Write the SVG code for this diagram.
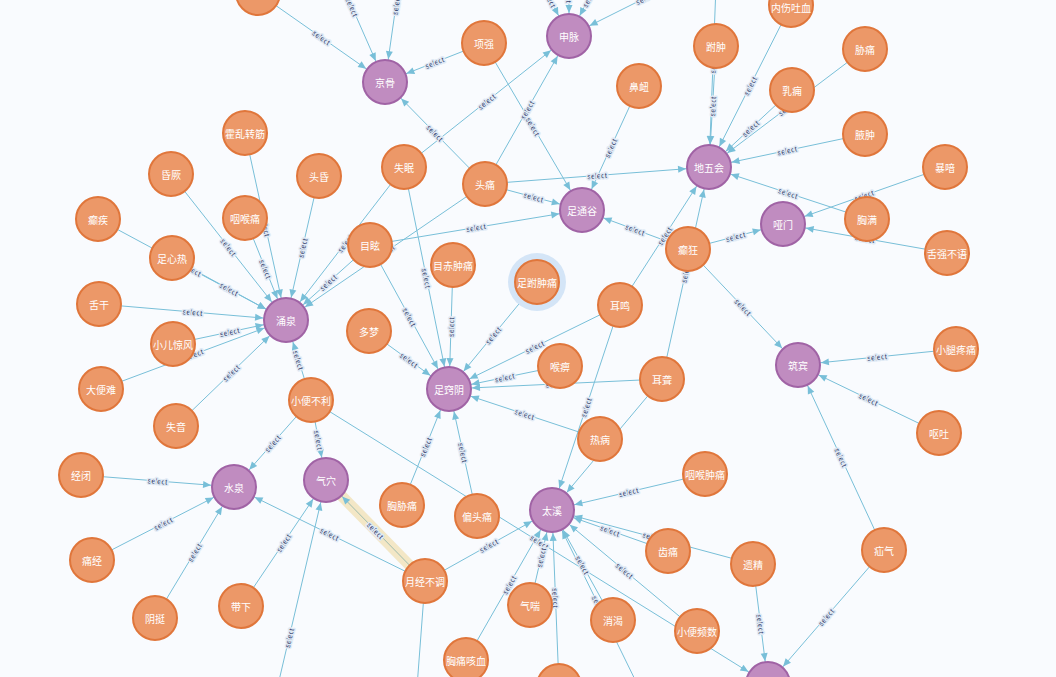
<svg xmlns="http://www.w3.org/2000/svg" xmlns:xlink="http://www.w3.org/1999/xlink" width="1056" height="677" viewBox="0 0 1056 677">
<style>
.e{stroke:#78bfd8;stroke-width:1;fill:none;marker-end:url(#arr)}
.lbl{font-family:"Liberation Sans",Arial,sans-serif;font-size:7.5px;fill:#33406b;stroke:#e0eaf5;stroke-width:3;paint-order:stroke;stroke-linejoin:round;text-anchor:middle;dominant-baseline:central;text-rendering:geometricPrecision}
.o circle{fill:#ec9868;stroke:#e0763b;stroke-width:2}
.p circle{fill:#c08cc0;stroke:#a063a5;stroke-width:2}
.n text{font-family:"Noto Sans CJK SC","Noto Sans",sans-serif;font-size:10px;fill:#fff;text-anchor:middle;dominant-baseline:central}
</style>
<defs>
<marker id="arr" markerUnits="userSpaceOnUse" markerWidth="10" markerHeight="8" refX="31" refY="0" orient="auto" overflow="visible"><path d="M0,-3.5 L8,0 L0,3.5 z" fill="#78bfd8"/></marker>
<path id="L1" d="M258,-7 L385,82"/><path id="L2" d="M385,82 L484,43"/><path id="L3" d="M385,82 L485,184"/><path id="L4" d="M319,-68 L385,82"/><path id="L5" d="M385,82 L407,-72"/>
<path id="L6" d="M404,167 L569,36"/><path id="L7" d="M485,184 L569,36"/><path id="L8" d="M530,-40 L569,36"/><path id="L9" d="M569,-50 L569,36"/><path id="L10" d="M569,36 L609,-40"/><path id="L11" d="M569,36 L721,-40"/>
<path id="L12" d="M484,43 L582,210"/><path id="L13" d="M582,210 L639,86"/><path id="L14" d="M485,184 L582,210"/><path id="L15" d="M370,245 L582,210"/><path id="L16" d="M582,210 L688,249"/>
<path id="L17" d="M709,167 L716,46"/><path id="L18" d="M709,167 L717,-40"/><path id="L19" d="M709,167 L791,5"/><path id="L20" d="M709,167 L865,49"/><path id="L21" d="M709,167 L792,90"/><path id="L22" d="M709,167 L865,134"/><path id="L23" d="M709,167 L867,219"/><path id="L24" d="M485,184 L709,167"/><path id="L25" d="M620,305 L709,167"/><path id="L26" d="M662,379 L709,167"/>
<path id="L27" d="M783,224 L945,167"/><path id="L28" d="M783,224 L947,253"/><path id="L29" d="M688,249 L783,224"/>
<path id="L30" d="M688,249 L798,365"/><path id="L31" d="M798,365 L956,349"/><path id="L32" d="M798,365 L939,433"/><path id="L33" d="M798,365 L884,550"/>
<path id="L34" d="M753,564 L768,684"/><path id="L35" d="M768,684 L884,550"/><path id="L36" d="M311,400 L768,684"/>
<path id="L37" d="M245,133 L286,320"/><path id="L38" d="M245,218 L286,320"/><path id="L39" d="M171,174 L286,320"/><path id="L40" d="M286,320 L319,176"/><path id="L41" d="M98,219 L286,320"/><path id="L42" d="M172,258 L286,320"/><path id="L43" d="M99,304 L286,320"/><path id="L44" d="M173,344 L286,320"/><path id="L45" d="M101,389 L286,320"/><path id="L46" d="M176,426 L286,320"/><path id="L47" d="M286,320 L311,400"/><path id="L48" d="M286,320 L404,167"/><path id="L49" d="M286,320 L370,245"/><path id="L50" d="M286,320 L485,184"/>
<path id="L51" d="M404,167 L449,389"/><path id="L52" d="M370,245 L449,389"/><path id="L53" d="M449,389 L453,265"/><path id="L54" d="M369,331 L449,389"/><path id="L55" d="M449,389 L537,282"/><path id="L56" d="M449,389 L620,305"/><path id="L57" d="M449,389 L560,366"/><path id="L58" d="M449,389 L662,379"/><path id="L59" d="M449,389 L600,439"/><path id="L60" d="M402,505 L449,389"/><path id="L61" d="M449,389 L477,516"/>
<path id="L62" d="M552,510 L620,305"/><path id="L63" d="M552,510 L662,379"/><path id="L64" d="M552,510 L705,474"/><path id="L65" d="M552,510 L668,551"/><path id="L66" d="M552,510 L753,564"/><path id="L67" d="M552,510 L697,631"/><path id="L68" d="M552,510 L613,620"/><path id="L69" d="M530,605 L552,510"/><path id="L70" d="M466,660 L552,510"/><path id="L71" d="M552,510 L559,686"/><path id="L72" d="M552,510 L645,700"/><path id="L73" d="M425,581 L552,510"/>
<path id="L74" d="M81,475 L234,487"/><path id="L75" d="M92,560 L234,487"/><path id="L76" d="M155,618 L234,487"/><path id="L77" d="M234,487 L311,400"/><path id="L78" d="M234,487 L425,581"/>
<path id="L79" d="M311,400 L326,480"/><path id="L80" d="M241,606 L326,480"/><path id="L81" d="M326,480 L425,581"/><path id="L82" d="M252,796 L326,480"/>
</defs>
<rect width="1056" height="677" fill="#f9fbfe"/>
<g id="connectors">
<line x1="420" y1="576" x2="331" y2="485" stroke="#f3e7c6" stroke-width="11"/>
<line class="e" x1="258" y1="-7" x2="385" y2="82"/><line class="e" x1="484" y1="43" x2="385" y2="82"/><line class="e" x1="485" y1="184" x2="385" y2="82"/><line class="e" x1="319" y1="-68" x2="385" y2="82"/><line class="e" x1="407" y1="-72" x2="385" y2="82"/>
<line class="e" x1="404" y1="167" x2="569" y2="36"/><line class="e" x1="485" y1="184" x2="569" y2="36"/><line class="e" x1="530" y1="-40" x2="569" y2="36"/><line class="e" x1="569" y1="-50" x2="569" y2="36"/><line class="e" x1="609" y1="-40" x2="569" y2="36"/><line class="e" x1="721" y1="-40" x2="569" y2="36"/>
<line class="e" x1="484" y1="43" x2="582" y2="210"/><line class="e" x1="639" y1="86" x2="582" y2="210"/><line class="e" x1="485" y1="184" x2="582" y2="210"/><line class="e" x1="370" y1="245" x2="582" y2="210"/><line class="e" x1="688" y1="249" x2="582" y2="210"/>
<line class="e" x1="716" y1="46" x2="709" y2="167"/><line class="e" x1="717" y1="-40" x2="709" y2="167"/><line class="e" x1="791" y1="5" x2="709" y2="167"/><line class="e" x1="865" y1="49" x2="709" y2="167"/><line class="e" x1="792" y1="90" x2="709" y2="167"/><line class="e" x1="865" y1="134" x2="709" y2="167"/><line class="e" x1="867" y1="219" x2="709" y2="167"/><line class="e" x1="485" y1="184" x2="709" y2="167"/><line class="e" x1="620" y1="305" x2="709" y2="167"/><line class="e" x1="662" y1="379" x2="709" y2="167"/>
<line class="e" x1="945" y1="167" x2="783" y2="224"/><line class="e" x1="947" y1="253" x2="783" y2="224"/><line class="e" x1="688" y1="249" x2="783" y2="224"/>
<line class="e" x1="688" y1="249" x2="798" y2="365"/><line class="e" x1="956" y1="349" x2="798" y2="365"/><line class="e" x1="939" y1="433" x2="798" y2="365"/><line class="e" x1="884" y1="550" x2="798" y2="365"/>
<line class="e" x1="753" y1="564" x2="768" y2="684"/><line class="e" x1="884" y1="550" x2="768" y2="684"/><line class="e" x1="311" y1="400" x2="768" y2="684"/>
<line class="e" x1="245" y1="133" x2="286" y2="320"/><line class="e" x1="245" y1="218" x2="286" y2="320"/><line class="e" x1="171" y1="174" x2="286" y2="320"/><line class="e" x1="319" y1="176" x2="286" y2="320"/><line class="e" x1="98" y1="219" x2="286" y2="320"/><line class="e" x1="172" y1="258" x2="286" y2="320"/><line class="e" x1="99" y1="304" x2="286" y2="320"/><line class="e" x1="173" y1="344" x2="286" y2="320"/><line class="e" x1="101" y1="389" x2="286" y2="320"/><line class="e" x1="176" y1="426" x2="286" y2="320"/><line class="e" x1="311" y1="400" x2="286" y2="320"/><line class="e" x1="404" y1="167" x2="286" y2="320"/><line class="e" x1="370" y1="245" x2="286" y2="320"/><line class="e" x1="485" y1="184" x2="286" y2="320"/>
<line class="e" x1="404" y1="167" x2="449" y2="389"/><line class="e" x1="370" y1="245" x2="449" y2="389"/><line class="e" x1="453" y1="265" x2="449" y2="389"/><line class="e" x1="369" y1="331" x2="449" y2="389"/><line class="e" x1="537" y1="282" x2="449" y2="389"/><line class="e" x1="620" y1="305" x2="449" y2="389"/><line class="e" x1="560" y1="366" x2="449" y2="389"/><line class="e" x1="662" y1="379" x2="449" y2="389"/><line class="e" x1="600" y1="439" x2="449" y2="389"/><line class="e" x1="402" y1="505" x2="449" y2="389"/><line class="e" x1="477" y1="516" x2="449" y2="389"/>
<line class="e" x1="620" y1="305" x2="552" y2="510"/><line class="e" x1="662" y1="379" x2="552" y2="510"/><line class="e" x1="705" y1="474" x2="552" y2="510"/><line class="e" x1="668" y1="551" x2="552" y2="510"/><line class="e" x1="753" y1="564" x2="552" y2="510"/><line class="e" x1="697" y1="631" x2="552" y2="510"/><line class="e" x1="613" y1="620" x2="552" y2="510"/><line class="e" x1="530" y1="605" x2="552" y2="510"/><line class="e" x1="466" y1="660" x2="552" y2="510"/><line class="e" x1="559" y1="686" x2="552" y2="510"/><line class="e" x1="645" y1="700" x2="552" y2="510"/><line class="e" x1="425" y1="581" x2="552" y2="510"/>
<line class="e" x1="81" y1="475" x2="234" y2="487"/><line class="e" x1="92" y1="560" x2="234" y2="487"/><line class="e" x1="155" y1="618" x2="234" y2="487"/><line class="e" x1="311" y1="400" x2="234" y2="487"/><line class="e" x1="425" y1="581" x2="234" y2="487"/>
<line class="e" x1="311" y1="400" x2="326" y2="480"/><line class="e" x1="241" y1="606" x2="326" y2="480"/><line class="e" x1="425" y1="581" x2="326" y2="480" style="stroke:#9fbcae"/><line class="e" x1="252" y1="796" x2="326" y2="480"/>
<line class="e" x1="425" y1="581" x2="410" y2="780"/>
<text class="lbl"><textPath href="#L1" startOffset="50%">select</textPath></text><text class="lbl"><textPath href="#L2" startOffset="50%">select</textPath></text><text class="lbl"><textPath href="#L3" startOffset="50%">select</textPath></text><text class="lbl"><textPath href="#L4" startOffset="50%">select</textPath></text><text class="lbl"><textPath href="#L5" startOffset="50%">select</textPath></text>
<text class="lbl"><textPath href="#L6" startOffset="50%">select</textPath></text><text class="lbl"><textPath href="#L7" startOffset="50%">select</textPath></text><text class="lbl"><textPath href="#L8" startOffset="50%">select</textPath></text><text class="lbl"><textPath href="#L9" startOffset="50%">select</textPath></text><text class="lbl"><textPath href="#L10" startOffset="50%">select</textPath></text><text class="lbl"><textPath href="#L11" startOffset="50%">select</textPath></text>
<text class="lbl"><textPath href="#L12" startOffset="50%">select</textPath></text><text class="lbl"><textPath href="#L13" startOffset="50%">select</textPath></text><text class="lbl"><textPath href="#L14" startOffset="50%">select</textPath></text><text class="lbl"><textPath href="#L15" startOffset="50%">select</textPath></text><text class="lbl"><textPath href="#L16" startOffset="50%">select</textPath></text>
<text class="lbl"><textPath href="#L17" startOffset="50%">select</textPath></text><text class="lbl"><textPath href="#L18" startOffset="50%">select</textPath></text><text class="lbl"><textPath href="#L19" startOffset="50%">select</textPath></text><text class="lbl"><textPath href="#L20" startOffset="50%">select</textPath></text><text class="lbl"><textPath href="#L21" startOffset="50%">select</textPath></text><text class="lbl"><textPath href="#L22" startOffset="50%">select</textPath></text><text class="lbl"><textPath href="#L23" startOffset="50%">select</textPath></text><text class="lbl"><textPath href="#L24" startOffset="50%">select</textPath></text><text class="lbl"><textPath href="#L25" startOffset="50%">select</textPath></text><text class="lbl"><textPath href="#L26" startOffset="50%">select</textPath></text>
<text class="lbl"><textPath href="#L27" startOffset="50%">select</textPath></text><text class="lbl"><textPath href="#L28" startOffset="50%">select</textPath></text><text class="lbl"><textPath href="#L29" startOffset="50%">select</textPath></text>
<text class="lbl"><textPath href="#L30" startOffset="50%">select</textPath></text><text class="lbl"><textPath href="#L31" startOffset="50%">select</textPath></text><text class="lbl"><textPath href="#L32" startOffset="50%">select</textPath></text><text class="lbl"><textPath href="#L33" startOffset="50%">select</textPath></text>
<text class="lbl"><textPath href="#L34" startOffset="50%">select</textPath></text><text class="lbl"><textPath href="#L35" startOffset="50%">select</textPath></text><text class="lbl"><textPath href="#L36" startOffset="50%">select</textPath></text>
<text class="lbl"><textPath href="#L37" startOffset="50%">select</textPath></text><text class="lbl"><textPath href="#L38" startOffset="50%">select</textPath></text><text class="lbl"><textPath href="#L39" startOffset="50%">select</textPath></text><text class="lbl"><textPath href="#L40" startOffset="50%">select</textPath></text><text class="lbl"><textPath href="#L41" startOffset="50%">select</textPath></text><text class="lbl"><textPath href="#L42" startOffset="50%">select</textPath></text><text class="lbl"><textPath href="#L43" startOffset="50%">select</textPath></text><text class="lbl"><textPath href="#L44" startOffset="50%">select</textPath></text><text class="lbl"><textPath href="#L45" startOffset="50%">select</textPath></text><text class="lbl"><textPath href="#L46" startOffset="50%">select</textPath></text><text class="lbl"><textPath href="#L47" startOffset="50%">select</textPath></text><text class="lbl"><textPath href="#L48" startOffset="50%">select</textPath></text><text class="lbl"><textPath href="#L49" startOffset="50%">select</textPath></text><text class="lbl"><textPath href="#L50" startOffset="50%">select</textPath></text>
<text class="lbl"><textPath href="#L51" startOffset="50%">select</textPath></text><text class="lbl"><textPath href="#L52" startOffset="50%">select</textPath></text><text class="lbl"><textPath href="#L53" startOffset="50%">select</textPath></text><text class="lbl"><textPath href="#L54" startOffset="50%">select</textPath></text><text class="lbl"><textPath href="#L55" startOffset="50%">select</textPath></text><text class="lbl"><textPath href="#L56" startOffset="50%">select</textPath></text><text class="lbl"><textPath href="#L57" startOffset="50%">select</textPath></text><text class="lbl"><textPath href="#L58" startOffset="50%">select</textPath></text><text class="lbl"><textPath href="#L59" startOffset="50%">select</textPath></text><text class="lbl"><textPath href="#L60" startOffset="50%">select</textPath></text><text class="lbl"><textPath href="#L61" startOffset="50%">select</textPath></text>
<text class="lbl"><textPath href="#L62" startOffset="50%">select</textPath></text><text class="lbl"><textPath href="#L63" startOffset="50%">select</textPath></text><text class="lbl"><textPath href="#L64" startOffset="50%">select</textPath></text><text class="lbl"><textPath href="#L65" startOffset="50%">select</textPath></text><text class="lbl"><textPath href="#L66" startOffset="50%">select</textPath></text><text class="lbl"><textPath href="#L67" startOffset="50%">select</textPath></text><text class="lbl"><textPath href="#L68" startOffset="50%">select</textPath></text><text class="lbl"><textPath href="#L69" startOffset="50%">select</textPath></text><text class="lbl"><textPath href="#L70" startOffset="50%">select</textPath></text><text class="lbl"><textPath href="#L71" startOffset="50%">select</textPath></text><text class="lbl"><textPath href="#L72" startOffset="50%">select</textPath></text><text class="lbl"><textPath href="#L73" startOffset="50%">select</textPath></text>
<text class="lbl"><textPath href="#L74" startOffset="50%">select</textPath></text><text class="lbl"><textPath href="#L75" startOffset="50%">select</textPath></text><text class="lbl"><textPath href="#L76" startOffset="50%">select</textPath></text><text class="lbl"><textPath href="#L77" startOffset="50%">select</textPath></text><text class="lbl"><textPath href="#L78" startOffset="50%">select</textPath></text>
<text class="lbl"><textPath href="#L79" startOffset="50%">select</textPath></text><text class="lbl"><textPath href="#L80" startOffset="50%">select</textPath></text><text class="lbl"><textPath href="#L81" startOffset="50%">select</textPath></text><text class="lbl"><textPath href="#L82" startOffset="50%">select</textPath></text>
</g>
<g id="n-jinggu" class="n p"><circle cx="385" cy="82" r="22"/><text x="385" y="82">京骨</text></g>
<g id="n-shenmai" class="n p"><circle cx="569" cy="36" r="22"/><text x="569" y="36">申脉</text></g>
<g id="n-zutonggu" class="n p"><circle cx="582" cy="210" r="22"/><text x="582" y="210">足通谷</text></g>
<g id="n-diwuhui" class="n p"><circle cx="709" cy="167" r="22"/><text x="709" y="167">地五会</text></g>
<g id="n-yamen" class="n p"><circle cx="783" cy="224" r="22"/><text x="783" y="224">哑门</text></g>
<g id="n-yongquan" class="n p"><circle cx="286" cy="320" r="22"/><text x="286" y="320">涌泉</text></g>
<g id="n-zuqiaoyin" class="n p"><circle cx="449" cy="389" r="22"/><text x="449" y="389">足窍阴</text></g>
<g id="n-zhubin" class="n p"><circle cx="798" cy="365" r="22"/><text x="798" y="365">筑宾</text></g>
<g id="n-shuiquan" class="n p"><circle cx="234" cy="487" r="22"/><text x="234" y="487">水泉</text></g>
<g id="n-qixue" class="n p"><circle cx="326" cy="480" r="22"/><text x="326" y="480">气穴</text></g>
<g id="n-taixi" class="n p"><circle cx="552" cy="510" r="22"/><text x="552" y="510">太溪</text></g>
<g id="n-p12" class="n p"><circle cx="768" cy="684" r="22"/></g>
<g id="n-otop" class="n o"><circle cx="258" cy="-7" r="22"/></g>
<g id="n-xiangqiang" class="n o"><circle cx="484" cy="43" r="22"/><text x="484" y="43">项强</text></g>
<g id="n-biniu" class="n o"><circle cx="639" cy="86" r="22"/><text x="639" y="86">鼻衄</text></g>
<g id="n-neishang" class="n o"><circle cx="791" cy="5" r="22"/><text x="791" y="7">内伤吐血</text></g>
<g id="n-fuzhong" class="n o"><circle cx="716" cy="46" r="22"/><text x="716" y="46">跗肿</text></g>
<g id="n-xietong" class="n o"><circle cx="865" cy="49" r="22"/><text x="865" y="49">胁痛</text></g>
<g id="n-ruyong" class="n o"><circle cx="792" cy="90" r="22"/><text x="792" y="90">乳痈</text></g>
<g id="n-yezhong" class="n o"><circle cx="865" cy="134" r="22"/><text x="865" y="134">腋肿</text></g>
<g id="n-baoyin" class="n o"><circle cx="945" cy="167" r="22"/><text x="945" y="167">暴喑</text></g>
<g id="n-xiongman" class="n o"><circle cx="867" cy="219" r="22"/><text x="867" y="219">胸满</text></g>
<g id="n-sheqiang" class="n o"><circle cx="947" cy="253" r="22"/><text x="947" y="253">舌强不语</text></g>
<g id="n-diankuang" class="n o"><circle cx="688" cy="249" r="22"/><text x="688" y="249">癫狂</text></g>
<g id="n-xiaotui" class="n o"><circle cx="956" cy="349" r="22"/><text x="956" y="349">小腿疼痛</text></g>
<g id="n-outu" class="n o"><circle cx="939" cy="433" r="22"/><text x="939" y="433">呕吐</text></g>
<g id="n-shanqi" class="n o"><circle cx="884" cy="550" r="22"/><text x="884" y="550">疝气</text></g>
<g id="n-yijing" class="n o"><circle cx="753" cy="564" r="22"/><text x="753" y="564">遗精</text></g>
<g id="n-xbps" class="n o"><circle cx="697" cy="631" r="22"/><text x="697" y="631">小便频数</text></g>
<g id="n-yhzt" class="n o"><circle cx="705" cy="474" r="22"/><text x="705" y="474">咽喉肿痛</text></g>
<g id="n-chitong" class="n o"><circle cx="668" cy="551" r="22"/><text x="668" y="551">齿痛</text></g>
<g id="n-xiaoke" class="n o"><circle cx="613" cy="620" r="22"/><text x="613" y="620">消渴</text></g>
<g id="n-qichuan" class="n o"><circle cx="530" cy="605" r="22"/><text x="530" y="605">气喘</text></g>
<g id="n-xtkx" class="n o"><circle cx="466" cy="660" r="22"/><text x="466" y="660">胸痛咳血</text></g>
<g id="n-ob1" class="n o"><circle cx="559" cy="686" r="22"/></g>
<g id="n-ob2" class="n o"><circle cx="645" cy="700" r="22"/></g>
<g id="n-yjbt" class="n o"><circle cx="425" cy="581" r="22"/><text x="425" y="581">月经不调</text></g>
<g id="n-piantou" class="n o"><circle cx="477" cy="516" r="22"/><text x="477" y="516">偏头痛</text></g>
<g id="n-xxt" class="n o"><circle cx="402" cy="505" r="22"/><text x="402" y="505">胸胁痛</text></g>
<g id="n-rebing" class="n o"><circle cx="600" cy="439" r="22"/><text x="600" y="439">热病</text></g>
<g id="n-erlong" class="n o"><circle cx="662" cy="379" r="22"/><text x="662" y="379">耳聋</text></g>
<g id="n-erming" class="n o"><circle cx="620" cy="305" r="22"/><text x="620" y="305">耳鸣</text></g>
<g id="n-houbi" class="n o"><circle cx="560" cy="366" r="22"/><text x="560" y="366">喉痹</text></g>
<g id="n-zfzt" class="n o"><circle cx="537" cy="282" r="29" style="fill:#d4e5f7;stroke:none"/><circle cx="537" cy="282" r="22"/><text x="537" y="282">足跗肿痛</text></g>
<g id="n-mczt" class="n o"><circle cx="453" cy="265" r="22"/><text x="453" y="265">目赤肿痛</text></g>
<g id="n-duomeng" class="n o"><circle cx="369" cy="331" r="22"/><text x="369" y="331">多梦</text></g>
<g id="n-muxuan" class="n o"><circle cx="370" cy="245" r="22"/><text x="370" y="245">目眩</text></g>
<g id="n-shimian" class="n o"><circle cx="404" cy="167" r="22"/><text x="404" y="167">失眠</text></g>
<g id="n-toutong" class="n o"><circle cx="485" cy="184" r="22"/><text x="485" y="184">头痛</text></g>
<g id="n-touhun" class="n o"><circle cx="319" cy="176" r="22"/><text x="319" y="176">头昏</text></g>
<g id="n-huoluan" class="n o"><circle cx="245" cy="133" r="22"/><text x="245" y="133">霍乱转筋</text></g>
<g id="n-yht" class="n o"><circle cx="245" cy="218" r="22"/><text x="245" y="218">咽喉痛</text></g>
<g id="n-hunjue" class="n o"><circle cx="171" cy="174" r="22"/><text x="171" y="174">昏厥</text></g>
<g id="n-dianji" class="n o"><circle cx="98" cy="219" r="22"/><text x="98" y="219">癫疾</text></g>
<g id="n-zxr" class="n o"><circle cx="172" cy="258" r="22"/><text x="172" y="258">足心热</text></g>
<g id="n-shegan" class="n o"><circle cx="99" cy="304" r="22"/><text x="99" y="304">舌干</text></g>
<g id="n-xejf" class="n o"><circle cx="173" cy="344" r="22"/><text x="173" y="344">小儿惊风</text></g>
<g id="n-dbn" class="n o"><circle cx="101" cy="389" r="22"/><text x="101" y="389">大便难</text></g>
<g id="n-shiyin" class="n o"><circle cx="176" cy="426" r="22"/><text x="176" y="426">失音</text></g>
<g id="n-xbbl" class="n o"><circle cx="311" cy="400" r="22"/><text x="311" y="400">小便不利</text></g>
<g id="n-jingbi" class="n o"><circle cx="81" cy="475" r="22"/><text x="81" y="475">经闭</text></g>
<g id="n-tongjing" class="n o"><circle cx="92" cy="560" r="22"/><text x="92" y="560">痛经</text></g>
<g id="n-yinting" class="n o"><circle cx="155" cy="618" r="22"/><text x="155" y="618">阴挺</text></g>
<g id="n-daixia" class="n o"><circle cx="241" cy="606" r="22"/><text x="241" y="606">带下</text></g>
</svg>
